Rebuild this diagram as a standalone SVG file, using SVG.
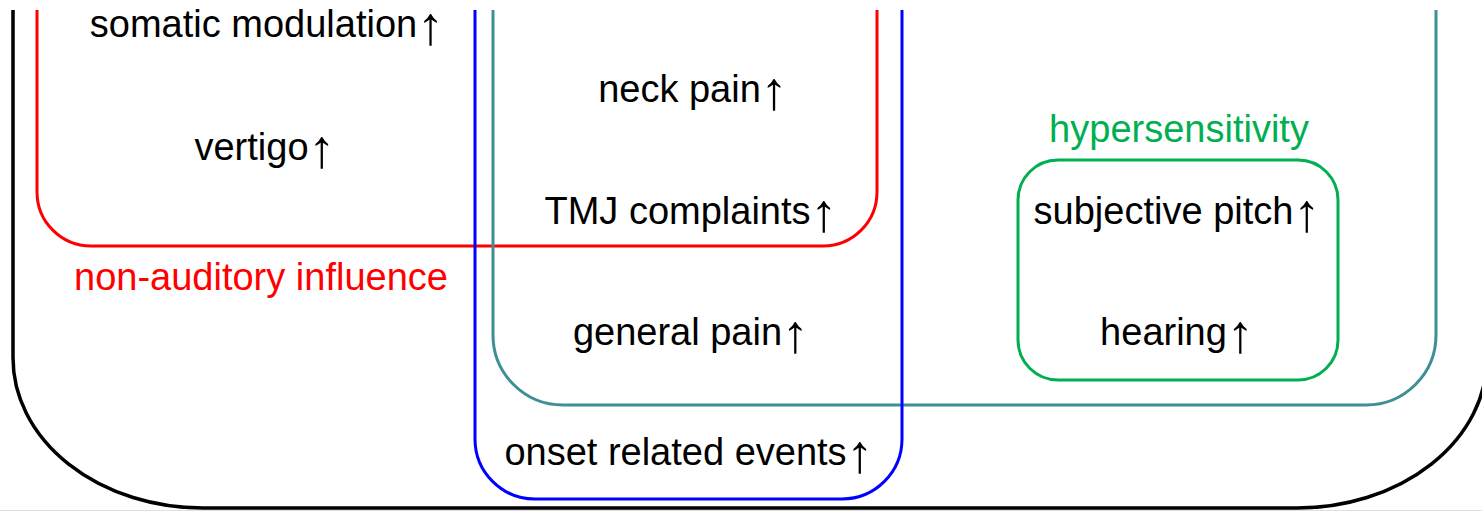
<svg xmlns="http://www.w3.org/2000/svg" width="1482" height="512" viewBox="0 0 1482 512">
  <style>
    .set { fill: none; stroke-linejoin: round; }
    .lbl { font-family: "Liberation Sans", Arial, sans-serif; font-size: 38px; text-anchor: middle; fill: #000; }
    .up { font-size: 54px; }
  </style>
  <rect x="0" y="0" width="1482" height="512" fill="#fff"/>
  <line x1="0" y1="510.5" x2="1482" y2="510.5" stroke="#e0e0e0" stroke-width="1"/>

  <!-- set outlines -->
  <g id="outer-set">
    <path class="set" stroke="#000" stroke-width="3.5" d="M13,10 V358 A190,150 0 0 0 203,508 H1297 A190,150 0 0 0 1487,358 V10"/>
  </g>
  <g id="non-auditory">
    <path class="set" stroke="#ff0000" stroke-width="3" d="M37,10 V192 A54,54 0 0 0 91,246 H823 A54,54 0 0 0 877,192 V10"/>
    <text class="lbl" x="261" y="290" style="fill:#ff0000">non-auditory influence</text>
  </g>
  <g id="pain-set">
    <path class="set" stroke="#3f9096" stroke-width="3" d="M493,10 V335 A70,70 0 0 0 563,405 H1366 A70,70 0 0 0 1436,335 V10"/>
  </g>
  <g id="onset-set">
    <path class="set" stroke="#0000ff" stroke-width="3" d="M475,10 V439 A60,60 0 0 0 535,499 H842 A60,60 0 0 0 902,439 V10"/>
  </g>
  <g id="hypersensitivity">
    <rect class="set" x="1018" y="160" width="320" height="220" rx="40" ry="40" stroke="#00b050" stroke-width="3"/>
    <text class="lbl" x="1179" y="142" style="fill:#00b050">hypersensitivity</text>
  </g>

  <!-- item labels; the arrow glyph is set larger and dropped below the baseline -->
  <g id="items">
    <text class="lbl" x="267" y="37">somatic modulation<tspan class="up" dy="7">↑</tspan></text>
    <text class="lbl" x="265" y="160">vertigo<tspan class="up" dy="7">↑</tspan></text>
    <text class="lbl" x="693" y="102">neck pain<tspan class="up" dy="7">↑</tspan></text>
    <text class="lbl" x="691" y="224">TMJ complaints<tspan class="up" dy="7">↑</tspan></text>
    <text class="lbl" x="691" y="345">general pain<tspan class="up" dy="7">↑</tspan></text>
    <text class="lbl" x="689" y="465">onset related events<tspan class="up" dy="7">↑</tspan></text>
    <text class="lbl" x="1177" y="224">subjective pitch<tspan class="up" dy="7">↑</tspan></text>
    <text class="lbl" x="1177" y="345">hearing<tspan class="up" dy="7">↑</tspan></text>
  </g>
  <g id="connectors"/>
</svg>
